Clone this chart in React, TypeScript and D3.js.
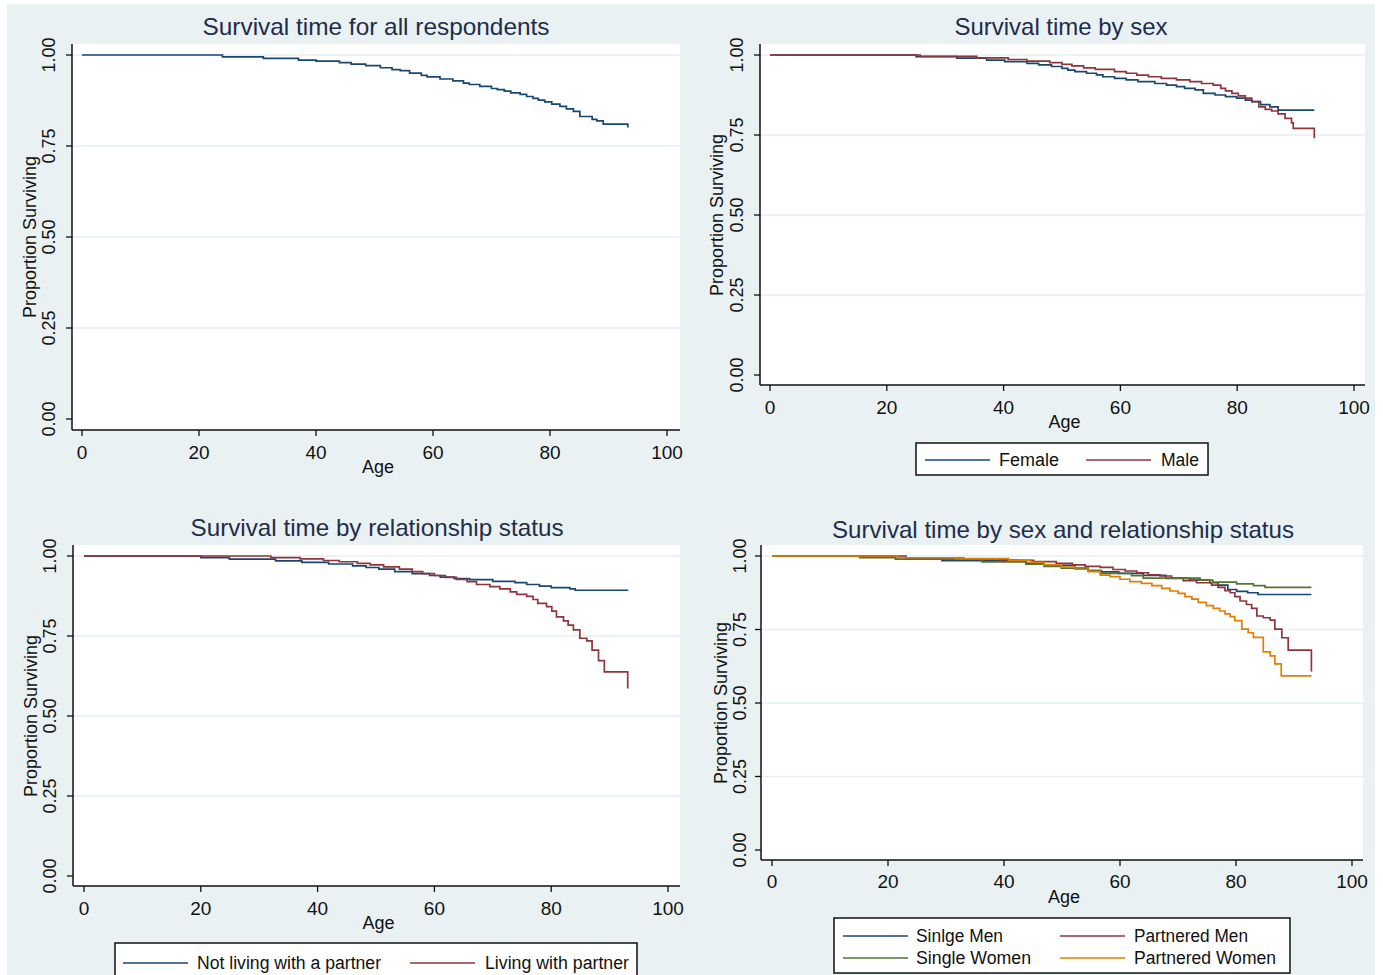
import React from 'react';
import * as d3 from 'd3';

// Kaplan-Meier step points: [age, proportion surviving]
const allRespondents: [number, number][] = [
  [0, 1], [24, 0.995], [31, 0.991], [37, 0.986], [40, 0.983], [44, 0.979], [46, 0.975], [48.5, 0.971],
  [51, 0.965], [53, 0.96], [54.4, 0.957], [56, 0.95], [58, 0.944], [59, 0.94], [61.2, 0.934], [63.4, 0.929],
  [65.2, 0.923], [66.2, 0.919], [68, 0.914], [70, 0.908], [71, 0.905], [72.2, 0.901], [73.3, 0.896],
  [74.9, 0.892], [76, 0.886], [77.1, 0.881], [78, 0.876], [79.1, 0.871], [80.3, 0.865], [81.7, 0.859],
  [82.8, 0.852], [84, 0.845], [85.1, 0.831], [87.2, 0.823], [88, 0.819], [89.1, 0.81], [93.3, 0.801],
];

const female: [number, number][] = [
  [0, 1], [25, 0.995], [32, 0.99], [37.1, 0.984], [40.2, 0.979], [44, 0.974], [46, 0.969], [48.2, 0.964],
  [50, 0.958], [51, 0.953], [52.2, 0.948], [54.2, 0.943], [55.9, 0.938], [57, 0.932], [59, 0.927],
  [61, 0.922], [63, 0.917], [65.9, 0.911], [67.9, 0.906], [69.6, 0.901], [71, 0.896], [72.8, 0.891],
  [74.2, 0.88], [76.2, 0.875], [78, 0.87], [79.9, 0.865], [81.4, 0.859], [82.5, 0.854], [84, 0.845],
  [85.6, 0.838], [87, 0.828], [93.2, 0.828],
];

const male: [number, number][] = [
  [0, 1], [25.7, 0.996], [35.4, 0.991], [40.8, 0.986], [44, 0.981], [47.9, 0.976], [50, 0.971],
  [51.7, 0.966], [53.7, 0.96], [55.7, 0.955], [59, 0.948], [61, 0.943], [62.8, 0.937], [64.8, 0.932],
  [67, 0.927], [69.6, 0.922], [71.9, 0.917], [73.9, 0.911], [75.9, 0.906], [77.2, 0.896], [78, 0.888],
  [79.1, 0.88], [80.2, 0.872], [81.4, 0.865], [82.5, 0.854], [83.7, 0.838], [84.8, 0.83], [85.9, 0.825],
  [87, 0.816], [88.2, 0.802], [89.3, 0.788], [89.6, 0.771], [93.2, 0.74],
];

const notLiving: [number, number][] = [
  [0, 1], [20, 0.995], [24.9, 0.99], [32.8, 0.985], [37.3, 0.98], [41.9, 0.975], [46, 0.969], [48.3, 0.964],
  [50.5, 0.959], [53.2, 0.951], [56.2, 0.945], [59.2, 0.939], [61, 0.934], [63.4, 0.929], [66, 0.926],
  [70, 0.921], [73.8, 0.917], [75.8, 0.911], [78, 0.906], [80, 0.901], [83.2, 0.897], [84.1, 0.893],
  [93.2, 0.893],
];

const livingWith: [number, number][] = [
  [0, 1], [32, 0.995], [37, 0.991], [41, 0.986], [43.7, 0.982], [46.8, 0.977], [49, 0.972], [51.3, 0.966],
  [54, 0.959], [56.2, 0.951], [58, 0.945], [60, 0.939], [61.9, 0.933], [63.8, 0.927], [65.6, 0.92],
  [67.2, 0.911], [69.5, 0.904], [71.2, 0.897], [73, 0.888], [74.1, 0.88], [75.8, 0.874], [76.9, 0.864],
  [77.7, 0.852], [79.2, 0.842], [80.1, 0.828], [80.9, 0.81], [82.1, 0.797], [82.9, 0.784], [83.8, 0.769],
  [84.9, 0.743], [86.1, 0.735], [87, 0.706], [88.1, 0.673], [89.1, 0.638], [93.1, 0.586],
];

const singleMen: [number, number][] = [
  [0, 1], [21.3, 0.989], [29.3, 0.984], [43.8, 0.975], [46.9, 0.968], [52.2, 0.957], [54.5, 0.95],
  [56.8, 0.946], [59.8, 0.941], [64, 0.934], [67.9, 0.924], [72, 0.918], [75.5, 0.909], [76.9, 0.901],
  [78.6, 0.886], [80.1, 0.88], [82, 0.875], [83.8, 0.869], [93, 0.869],
];

const partneredMen: [number, number][] = [
  [0, 1], [23.1, 0.993], [33.1, 0.99], [39.3, 0.987], [42.3, 0.985], [45.1, 0.981], [49, 0.975],
  [51.8, 0.97], [54, 0.965], [56.6, 0.961], [58.8, 0.954], [60.9, 0.949], [62.9, 0.943], [64.9, 0.936],
  [66.9, 0.932], [68.9, 0.926], [70.9, 0.916], [73.2, 0.909], [75.8, 0.901], [76.9, 0.893], [78.1, 0.882],
  [79, 0.875], [79.8, 0.862], [80.7, 0.847], [81.8, 0.835], [82.7, 0.822], [83.6, 0.796], [84.7, 0.79],
  [85.9, 0.782], [86.7, 0.751], [87.9, 0.722], [89, 0.68], [93, 0.607],
];

const singleWomen: [number, number][] = [
  [0, 1], [15.1, 0.994], [21.3, 0.989], [36.2, 0.98], [43.8, 0.972], [46.9, 0.965], [49.9, 0.959],
  [54.5, 0.95], [56.6, 0.941], [62, 0.933], [64, 0.925], [73.8, 0.918], [76, 0.911], [80.1, 0.905],
  [83, 0.899], [85, 0.893], [93, 0.893],
];

const partneredWomen: [number, number][] = [
  [0, 1], [21.7, 0.994], [31.6, 0.991], [40.8, 0.986], [44.6, 0.978], [46.9, 0.97], [49.9, 0.962],
  [52.2, 0.955], [54.5, 0.947], [56.6, 0.935], [58.3, 0.93], [60, 0.921], [61.7, 0.913], [63.7, 0.907],
  [65.5, 0.899], [67.2, 0.89], [68.6, 0.881], [70, 0.873], [71.2, 0.862], [72.4, 0.853], [73.5, 0.842],
  [74.9, 0.831], [76.1, 0.822], [77.2, 0.813], [78.1, 0.803], [79, 0.794], [79.8, 0.78], [81, 0.751],
  [82.1, 0.739], [83, 0.723], [84.7, 0.674], [85.9, 0.66], [86.7, 0.633], [87.8, 0.592], [93, 0.592],
];

const xTicks = [0, 20, 40, 60, 80, 100];
const yTicks = [0, 0.25, 0.5, 0.75, 1];
const gridTicks = [0.25, 0.5, 0.75, 1];

const titles = [
  'Survival time for all respondents',
  'Survival time by sex',
  'Survival time by relationship status',
  'Survival time by sex and relationship status',
];

const NAVY = '#1a476f';
const MAROON = '#90353b';
const GREEN = '#55752f';
const ORANGE = '#e37e00';
const BG = '#e9f1f3';
const GRID = '#e6eff2';
const FONT = "'Liberation Sans', Arial, Helvetica, sans-serif";

type Series = { label: string; color: string; data: [number, number][] };
type LegendItem = { lineX: number; textX: number; textW: number; y: number };

interface PanelLayout {
  axisX: number; axisY: number; top: number; right: number;
  x0: number; x100: number; y0: number; y1: number;
  tickY: number; ageY: number; yTickX: number; yTitleX: number;
  titleX: number; titleY: number; titleW: number;
  legend?: { x: number; y: number; w: number; h: number; items: LegendItem[] };
}

const Panel: React.FC<{ layout: PanelLayout; title: string; series: Series[] }> = ({ layout: L, title, series }) => {
  const x = d3.scaleLinear().domain([0, 100]).range([L.x0, L.x100]);
  const y = d3.scaleLinear().domain([0, 1]).range([L.y0, L.y1]);
  const line = d3.line<[number, number]>()
    .x(d => x(d[0]))
    .y(d => y(d[1]))
    .curve(d3.curveStepAfter);
  const fmt = d3.format('.2f');

  return (
    <g>
      <rect x={L.axisX} y={L.top} width={L.right - L.axisX} height={L.axisY - L.top} fill="#fff" />
      {gridTicks.map(t => (
        <line key={t} x1={L.axisX} x2={L.right} y1={y(t)} y2={y(t)} stroke={GRID} strokeWidth={1.6} />
      ))}
      {series.map(s => (
        <path key={s.label} d={line(s.data) || ''} fill="none" stroke={s.color} strokeWidth={1.7} />
      ))}
      {/* axes */}
      <line x1={L.axisX} x2={L.axisX} y1={L.top} y2={L.axisY} stroke="#111" strokeWidth={1.5} />
      <line x1={L.axisX} x2={L.right} y1={L.axisY} y2={L.axisY} stroke="#111" strokeWidth={1.5} />
      {xTicks.map(t => (
        <g key={t}>
          <line x1={x(t)} x2={x(t)} y1={L.axisY} y2={L.axisY + 6} stroke="#111" strokeWidth={1.3} />
          <text x={x(t)} y={L.tickY} textAnchor="middle" dominantBaseline="central"
            fontSize={19} fontFamily={FONT} fill="#111">{t}</text>
        </g>
      ))}
      {yTicks.map(t => (
        <g key={t}>
          <line x1={L.axisX - 6} x2={L.axisX} y1={y(t)} y2={y(t)} stroke="#111" strokeWidth={1.3} />
          <text transform={`translate(${L.yTickX},${y(t)}) rotate(-90)`} textAnchor="middle"
            dominantBaseline="central" fontSize={18} fontFamily={FONT} fill="#111">{fmt(t)}</text>
        </g>
      ))}
      <text x={(L.axisX + L.right) / 2 + 2} y={L.ageY} textAnchor="middle" dominantBaseline="central"
        fontSize={18} fontFamily={FONT} fill="#111">Age</text>
      <text transform={`translate(${L.yTitleX},${(L.y0 + L.y1) / 2}) rotate(-90)`} textAnchor="middle"
        dominantBaseline="central" fontSize={18} fontFamily={FONT} fill="#111">Proportion Surviving</text>
      <text x={L.titleX} y={L.titleY} textAnchor="middle" dominantBaseline="central" fontSize={24}
        fontFamily={FONT} fill="#1e2d4a" textLength={L.titleW} lengthAdjust="spacingAndGlyphs">{title}</text>
      {L.legend && (
        <g>
          <rect x={L.legend.x} y={L.legend.y} width={L.legend.w} height={L.legend.h} fill="#fff"
            stroke="#111" strokeWidth={1.5} />
          {L.legend.items.map((it, i) => (
            <g key={i}>
              <line x1={it.lineX} x2={it.lineX + 65} y1={it.y} y2={it.y} stroke={series[i].color} strokeWidth={1.7} />
              <text x={it.textX} y={it.y} dominantBaseline="central" fontSize={18} fontFamily={FONT}
                fill="#111" textLength={it.textW} lengthAdjust="spacingAndGlyphs">{series[i].label}</text>
            </g>
          ))}
        </g>
      )}
    </g>
  );
};

const layouts: PanelLayout[] = [
  { axisX: 72, axisY: 430, top: 44, right: 680, x0: 82, x100: 667, y0: 419, y1: 55, tickY: 452, ageY: 467,
    yTickX: 49, yTitleX: 30, titleX: 376, titleY: 26, titleW: 347 },
  { axisX: 760, axisY: 385, top: 44, right: 1365, x0: 770, x100: 1354, y0: 375, y1: 55, tickY: 407, ageY: 422,
    yTickX: 737, yTitleX: 717, titleX: 1061, titleY: 26, titleW: 213,
    legend: { x: 916, y: 443, w: 292, h: 32, items: [
      { lineX: 925, textX: 999, textW: 60, y: 460 },
      { lineX: 1086, textX: 1161, textW: 38, y: 460 },
    ] } },
  { axisX: 73, axisY: 886, top: 545, right: 680, x0: 84, x100: 668, y0: 876, y1: 556, tickY: 908, ageY: 923,
    yTickX: 50, yTitleX: 31, titleX: 377, titleY: 527, titleW: 373,
    legend: { x: 115, y: 943, w: 522, h: 45, items: [
      { lineX: 123, textX: 197, textW: 184, y: 963 },
      { lineX: 410, textX: 485, textW: 144, y: 963 },
    ] } },
  { axisX: 761, axisY: 860, top: 545, right: 1363, x0: 772, x100: 1352, y0: 850, y1: 556, tickY: 881, ageY: 897,
    yTickX: 740, yTitleX: 721, titleX: 1063, titleY: 529, titleW: 462,
    legend: { x: 834, y: 918, w: 456, h: 55, items: [
      { lineX: 843, textX: 916, textW: 87, y: 936 },
      { lineX: 1060, textX: 1134, textW: 114, y: 936 },
      { lineX: 843, textX: 916, textW: 115, y: 958 },
      { lineX: 1060, textX: 1134, textW: 142, y: 958 },
    ] } },
];

const panelSeries: Series[][] = [
  [{ label: 'All', color: NAVY, data: allRespondents }],
  [
    { label: 'Female', color: NAVY, data: female },
    { label: 'Male', color: MAROON, data: male },
  ],
  [
    { label: 'Not living with a partner', color: NAVY, data: notLiving },
    { label: 'Living with partner', color: MAROON, data: livingWith },
  ],
  [
    { label: 'Sinlge Men', color: NAVY, data: singleMen },
    { label: 'Partnered Men', color: MAROON, data: partneredMen },
    { label: 'Single Women', color: GREEN, data: singleWomen },
    { label: 'Partnered Women', color: ORANGE, data: partneredWomen },
  ],
];

export default function App() {
  return (
    <svg width={1383} height={975} style={{ position: 'absolute', left: 0, top: 0, display: 'block' }}>
      <rect x={0} y={0} width={1383} height={975} fill="#fff" />
      <rect x={7} y={4} width={1368} height={971} fill={BG} />
      {layouts.map((l, i) => (
        <Panel key={i} layout={l} title={titles[i]} series={panelSeries[i]} />
      ))}
    </svg>
  );
}
